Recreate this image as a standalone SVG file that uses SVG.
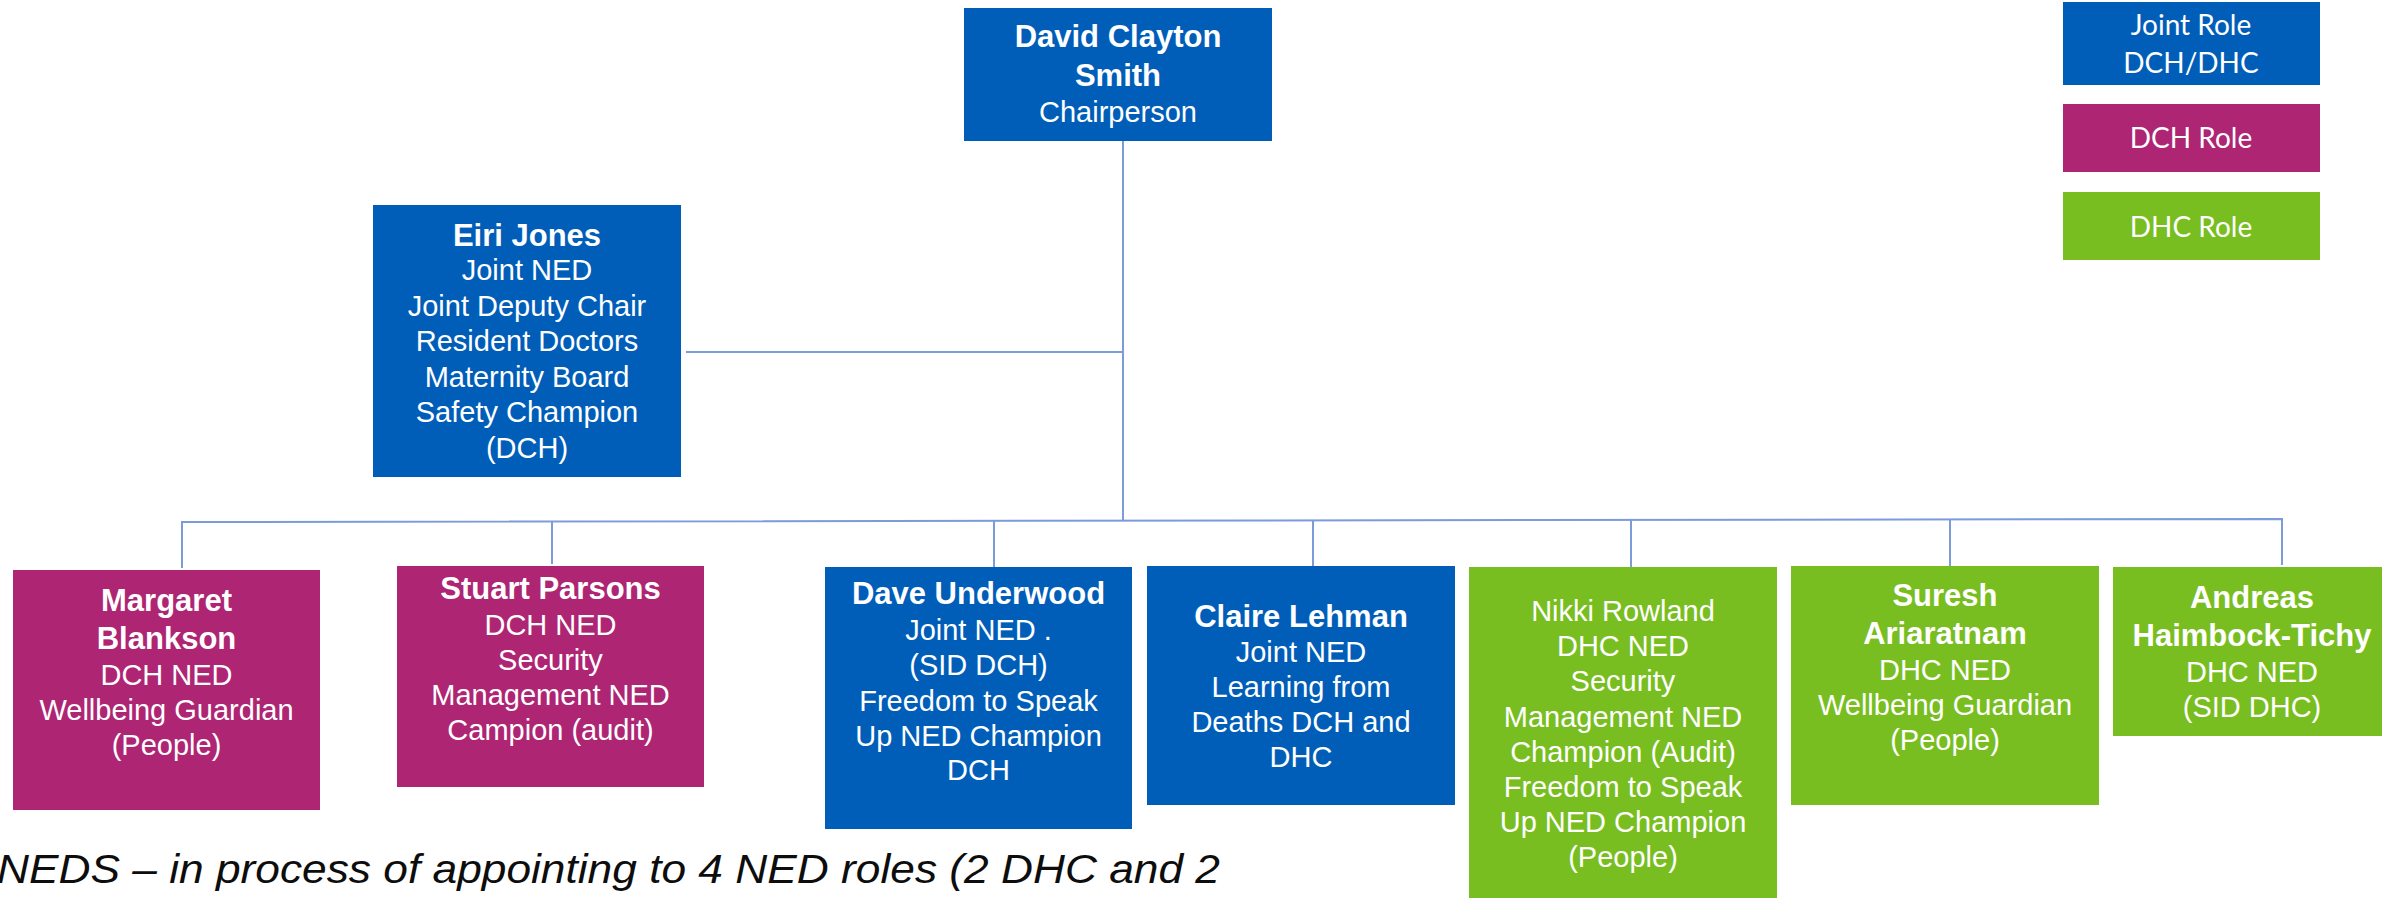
<svg xmlns="http://www.w3.org/2000/svg" width="2382" height="898" viewBox="0 0 2382 898">
<style>
  .joint { fill: #005EB8; }
  .dch { fill: #AE2573; }
  .dhc { fill: #78BE20; }
  text { font-family: "Liberation Sans", Arial, sans-serif; fill: #ffffff; text-anchor: middle; }
  .b { font-weight: bold; font-size: 31px; }
  .r { font-size: 29px; }
  .lg { font-family: Lato, "Open Sans", sans-serif; font-size: 28px; }
  .conn { stroke: #7B9BD9; stroke-width: 2; fill: none; }
  .foot { font-family: "Liberation Sans", Arial, sans-serif; font-style: italic; font-size: 40px; fill: #0d0d0d; text-anchor: start; }
</style>
<rect width="2382" height="898" fill="#ffffff"/>

<g id="connectors">
  <path class="conn" d="M1123 141 V521"/>
  <path class="conn" d="M686 352 H1123"/>
  <path class="conn" d="M182 568 V522 L2282 519 V565"/>
  <path class="conn" d="M552 521 V564"/>
  <path class="conn" d="M994 521 V567"/>
  <path class="conn" d="M1313 520 V566"/>
  <path class="conn" d="M1631 520 V567"/>
  <path class="conn" d="M1950 520 V566"/>
</g>

<g id="chair">
  <rect class="joint" x="964" y="8" width="308" height="133"/>
  <text class="b" x="1118" y="47">David Clayton</text>
  <text class="b" x="1118" y="85.5">Smith</text>
  <text class="r" x="1118" y="121.5">Chairperson</text>
</g>

<g id="eiri">
  <rect class="joint" x="373" y="205" width="308" height="272"/>
  <text class="b" x="527" y="245.5">Eiri Jones</text>
  <text class="r" x="527" y="280">Joint NED</text>
  <text class="r" x="527" y="315.5">Joint Deputy Chair</text>
  <text class="r" x="527" y="351">Resident Doctors</text>
  <text class="r" x="527" y="386.5">Maternity Board</text>
  <text class="r" x="527" y="422">Safety Champion</text>
  <text class="r" x="527" y="457.5">(DCH)</text>
</g>

<g id="legend-joint">
  <rect class="joint" x="2063" y="2" width="257" height="83"/>
  <text class="lg" x="2191" y="35">Joint Role</text>
  <text class="lg" x="2191" y="73">DCH/DHC</text>
</g>
<g id="legend-dch">
  <rect class="dch" x="2063" y="104" width="257" height="68"/>
  <text class="lg" x="2191" y="148">DCH Role</text>
</g>
<g id="legend-dhc">
  <rect class="dhc" x="2063" y="192" width="257" height="68"/>
  <text class="lg" x="2191" y="237">DHC Role</text>
</g>

<g id="margaret">
  <rect class="dch" x="13" y="570" width="307" height="240"/>
  <text class="b" x="166.5" y="611">Margaret</text>
  <text class="b" x="166.5" y="649">Blankson</text>
  <text class="r" x="166.5" y="685">DCH NED</text>
  <text class="r" x="166.5" y="720">Wellbeing Guardian</text>
  <text class="r" x="166.5" y="755">(People)</text>
</g>

<g id="stuart">
  <rect class="dch" x="397" y="566" width="307" height="221"/>
  <text class="b" x="550.5" y="599">Stuart Parsons</text>
  <text class="r" x="550.5" y="635">DCH NED</text>
  <text class="r" x="550.5" y="670">Security</text>
  <text class="r" x="550.5" y="705">Management NED</text>
  <text class="r" x="550.5" y="740">Campion (audit)</text>
</g>

<g id="dave">
  <rect class="joint" x="825" y="567" width="307" height="262"/>
  <text class="b" x="978.5" y="604">Dave Underwood</text>
  <text class="r" x="978.5" y="640">Joint NED .</text>
  <text class="r" x="978.5" y="675">(SID DCH)</text>
  <text class="r" x="978.5" y="711">Freedom to Speak</text>
  <text class="r" x="978.5" y="746">Up NED Champion</text>
  <text class="r" x="978.5" y="780">DCH</text>
</g>

<g id="claire">
  <rect class="joint" x="1147" y="566" width="308" height="239"/>
  <text class="b" x="1301" y="627">Claire Lehman</text>
  <text class="r" x="1301" y="662">Joint NED</text>
  <text class="r" x="1301" y="697">Learning from</text>
  <text class="r" x="1301" y="732">Deaths DCH and</text>
  <text class="r" x="1301" y="767">DHC</text>
</g>

<g id="nikki">
  <rect class="dhc" x="1469" y="567" width="308" height="331"/>
  <text class="r" x="1623" y="621">Nikki Rowland</text>
  <text class="r" x="1623" y="656">DHC NED</text>
  <text class="r" x="1623" y="691">Security</text>
  <text class="r" x="1623" y="727">Management NED</text>
  <text class="r" x="1623" y="762">Champion (Audit)</text>
  <text class="r" x="1623" y="797">Freedom to Speak</text>
  <text class="r" x="1623" y="832">Up NED Champion</text>
  <text class="r" x="1623" y="867">(People)</text>
</g>

<g id="suresh">
  <rect class="dhc" x="1791" y="566" width="308" height="239"/>
  <text class="b" x="1945" y="606">Suresh</text>
  <text class="b" x="1945" y="644">Ariaratnam</text>
  <text class="r" x="1945" y="680">DHC NED</text>
  <text class="r" x="1945" y="715">Wellbeing Guardian</text>
  <text class="r" x="1945" y="750">(People)</text>
</g>

<g id="andreas">
  <rect class="dhc" x="2113" y="567" width="269" height="169"/>
  <text class="b" x="2252" y="608">Andreas</text>
  <text class="b" x="2252" y="646">Haimbock-Tichy</text>
  <text class="r" x="2252" y="682">DHC NED</text>
  <text class="r" x="2252" y="717">(SID DHC)</text>
</g>

<g id="footer">
  <text class="foot" x="-3" y="883" textLength="1223" lengthAdjust="spacingAndGlyphs">NEDS – in process of appointing to 4 NED roles (2 DHC and 2</text>
</g>
</svg>
